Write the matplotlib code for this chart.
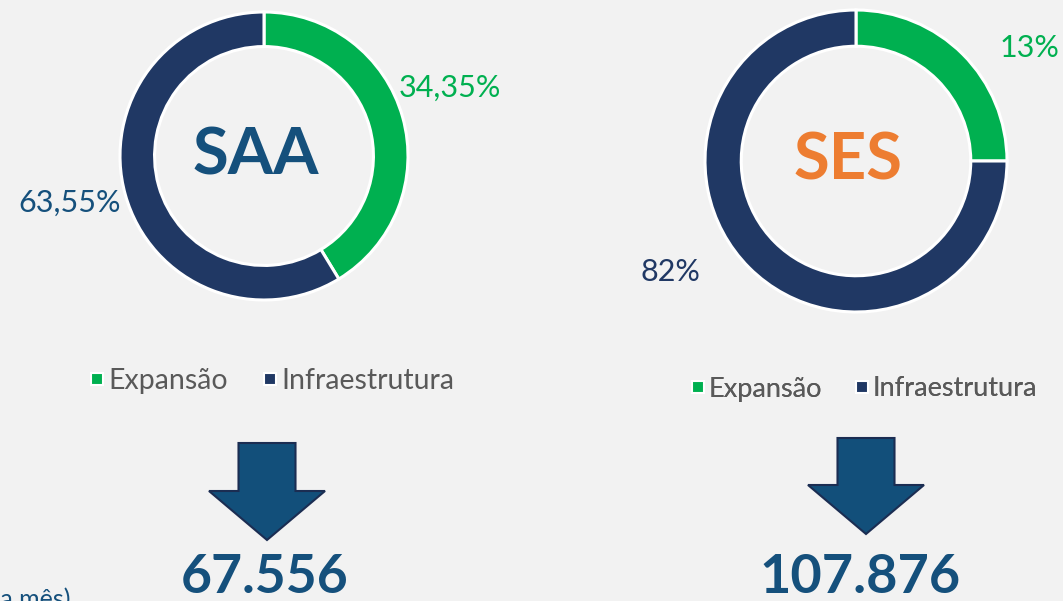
import matplotlib.pyplot as plt
from matplotlib.patches import FancyArrow
from matplotlib.lines import Line2D

plt.rcParams['font.family'] = ['Lato', 'DejaVu Sans']

W, H = 1063, 601

# dados
categorias = ["Expansão", "Infraestrutura"]
saa_fatias = [41.3, 58.7]        # proporção como aparece no desenho
saa_rotulos = ["34,35%", "63,55%"]
ses_fatias = [25, 75]
ses_rotulos = ["13%", "82%"]
sistemas = ["SAA", "SES"]
totais = ["67.556", "107.876"]

verde = '#00B050'
marinho = '#203864'
azul = '#15507C'
laranja = '#ED7D31'
cinza = '#595959'
fundo = '#F2F2F2'

fig = plt.figure(figsize=(W / 100, H / 100), dpi=100, facecolor=fundo)
ax = fig.add_axes([0, 0, 1, 1])
ax.set_facecolor(fundo)


def py(y):
    # converte y da imagem (de cima para baixo) para y do eixo
    return H - y


def donut(cx, cy, r, fatias, nome, cor_nome):
    ax.pie(fatias, colors=[verde, marinho], startangle=90, counterclock=False,
           center=(cx, py(cy)), radius=r,
           wedgeprops=dict(width=r * 0.24, edgecolor='white', linewidth=2.2))
    ax.text(cx - 8, py(cy), nome, ha='center', va='center', fontsize=47,
            fontweight='bold', color=cor_nome)


def legenda(cx, cy, tam):
    handles = [Line2D([], [], marker='s', ls='', markersize=9, markerfacecolor=c,
                      markeredgecolor='white', markeredgewidth=1.5)
               for c in (verde, marinho)]
    leg = ax.legend(handles, categorias, loc='center', ncol=2, frameon=False,
                    bbox_to_anchor=(cx, py(cy)), bbox_transform=ax.transData,
                    fontsize=tam, handlelength=0.5, handletextpad=0.15,
                    columnspacing=1.2, labelcolor=cinza)
    ax.add_artist(leg)


def seta(cx, ytop, ytip):
    ax.add_patch(FancyArrow(cx, py(ytop), 0, -(ytip - ytop), width=57,
                            head_width=116, head_length=49,
                            length_includes_head=True, facecolor='#124F7A',
                            edgecolor='#1B2D52', linewidth=1.5))


# SAA
donut(264, 156, 144, saa_fatias, sistemas[0], azul)
ax.text(450, py(88), saa_rotulos[0], ha='center', va='center', fontsize=22, color=verde)
ax.text(70, py(203), saa_rotulos[1], ha='center', va='center', fontsize=22, color=azul)
legenda(272, 381, 20.5)
seta(267, 443, 540)
ax.text(265, py(593), totais[0], ha='center', va='baseline', fontsize=38.5,
        fontweight='bold', color=azul)

# SES
donut(856, 161, 151, ses_fatias, sistemas[1], laranja)
ax.text(1029, py(48), ses_rotulos[0], ha='center', va='center', fontsize=22, color=verde)
ax.text(670, py(272), ses_rotulos[1], ha='center', va='center', fontsize=22, color=marinho)
legenda(864, 389, 19.5)
seta(866, 438, 534)
ax.text(860, py(593), totais[1], ha='center', va='baseline', fontsize=39,
        fontweight='bold', color=azul)

# texto cortado no canto, como na imagem original
ax.text(70, py(607), "(média mês)", ha='right', va='baseline', fontsize=18, color=azul)

ax.set_xlim(0, W)
ax.set_ylim(0, H)
ax.set_aspect('auto')
ax.axis('off')

fig.savefig('out.png', dpi=100, facecolor=fundo)
